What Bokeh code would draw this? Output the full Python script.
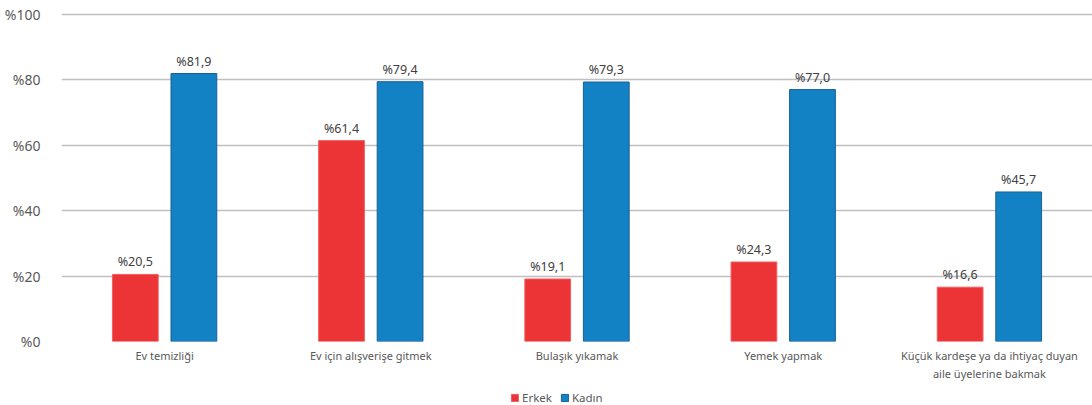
from bokeh.plotting import figure
from bokeh.layouts import column
from bokeh.models import ColumnDataSource, FixedTicker, Legend, LegendItem, FactorRange, Range1d
from bokeh.transform import dodge
from bokeh.core.properties import value
from bokeh.embed import file_html
from bokeh.resources import INLINE

categories = ["Ev temizliği", "Ev için alışverişe gitmek", "Bulaşık yıkamak", "Yemek yapmak",
              "Küçük kardeşe ya da ihtiyaç duyan\naile üyelerine bakmak"]
erkek = [20.5, 61.4, 19.1, 24.3, 16.6]
kadin = [81.9, 79.4, 79.3, 77.0, 45.7]
y_ticks = [0, 20, 40, 60, 80, 100]
y_tick_labels = ["%0", "%20", "%40", "%60", "%80", "%100"]
series_names = ["Erkek", "Kadın"]

RED = "#EC3436"
BLUE = "#1282C4"
RED_LINE = "#F06060"
BLUE_LINE = "#1A5F95"
FONT = "Noto Sans"

def fmt(v):
    return ("%" + f"{v:.1f}").replace(".", ",")

src = ColumnDataSource(dict(
    cat=categories, erkek=erkek, kadin=kadin,
    erkek_lbl=[fmt(v) for v in erkek], kadin_lbl=[fmt(v) for v in kadin],
))

p = figure(width=1092, height=390, x_range=FactorRange(*categories), y_range=Range1d(0, 103.0),
           output_backend="svg", toolbar_location=None,
           min_border_left=61, min_border_right=0, min_border_top=4, min_border_bottom=49)
p.outline_line_color = None
p.background_fill_color = "white"

p.vbar(x=dodge("cat", -0.142, range=p.x_range), top="erkek", width=0.222, source=src,
       fill_color=RED, line_color=RED_LINE, line_width=1)
p.vbar(x=dodge("cat", 0.142, range=p.x_range), top="kadin", width=0.222, source=src,
       fill_color=BLUE, line_color=BLUE_LINE, line_width=1)

p.text(x=dodge("cat", -0.142, range=p.x_range), y="erkek", text="erkek_lbl", source=src,
       text_align="center", text_baseline="bottom", y_offset=-4,
       text_font=value(FONT), text_font_size="12.5px", text_color="#404040")
p.text(x=dodge("cat", 0.142, range=p.x_range), y="kadin", text="kadin_lbl", source=src,
       text_align="center", text_baseline="bottom", y_offset=-4,
       text_font=value(FONT), text_font_size="12.5px", text_color="#404040")

p.yaxis.ticker = FixedTicker(ticks=y_ticks)
p.yaxis.major_label_overrides = {t: l for t, l in zip(y_ticks, y_tick_labels)}
p.yaxis.axis_line_color = None
p.yaxis.major_tick_line_color = None
p.yaxis.minor_tick_line_color = None
p.yaxis.major_label_text_font = FONT
p.yaxis.major_label_text_font_size = "14px"
p.yaxis.major_label_text_color = "#595959"
p.yaxis.major_label_standoff = 15

p.xaxis.axis_line_color = None
p.xaxis.major_tick_line_color = None
p.xaxis.major_label_text_font = FONT
p.xaxis.major_label_text_font_size = "11px"
p.xaxis.major_label_text_color = "#595959"
p.xaxis.major_label_standoff = 0

p.xgrid.grid_line_color = None
p.ygrid.ticker = FixedTicker(ticks=y_ticks)
p.ygrid.grid_line_color = "#C0C0C0"
p.ygrid.grid_line_width = 1.5

# legend strip: hidden renderers that only feed the legend glyphs
lg = figure(width=1092, height=15, x_range=FactorRange(*categories), y_range=Range1d(-2, -1),
            output_backend="svg", toolbar_location=None, min_border=0,
            x_axis_location=None, y_axis_location=None)
lg.grid.visible = False
lg.outline_line_color = None
e1 = lg.vbar(x="cat", top="erkek", width=0.2, source=src, fill_color=RED, line_color=RED_LINE)
e2 = lg.vbar(x="cat", top="kadin", width=0.2, source=src, fill_color=BLUE, line_color=BLUE_LINE)
e1.visible = False
e2.visible = False
legend = Legend(items=[LegendItem(label=series_names[0], renderers=[e1], index=0),
                       LegendItem(label=series_names[1], renderers=[e2], index=0)],
                orientation="horizontal", location=(449, 0),
                label_text_font=FONT, label_text_font_size="11.5px", label_text_color="#595959",
                glyph_width=9, glyph_height=9, label_standoff=3, spacing=8,
                border_line_color=None, background_fill_alpha=0, padding=2, margin=0)
lg.add_layout(legend, "center")

layout = column(p, lg, spacing=0)
open("out.html", "w").write(file_html(layout, INLINE))
